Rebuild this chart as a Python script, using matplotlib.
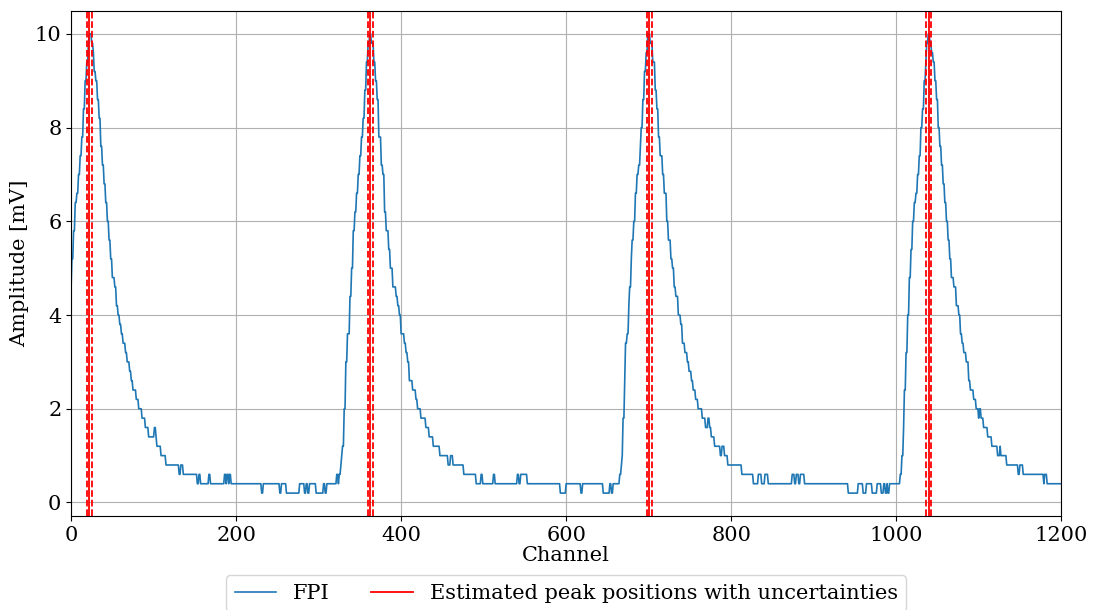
import numpy as np
import matplotlib
matplotlib.use("Agg")
import matplotlib.pyplot as plt

# FPI trace as (channel where a level starts, level in mV)
step_channel = [
    0, 1, 3, 5, 7, 9, 11, 13, 15, 17, 19, 21, 22,
    25, 27, 28, 30, 32, 34, 36, 38, 40, 42, 44, 46, 48, 50, 53, 55, 57, 59,
    61, 63, 66, 68, 71, 73, 75, 79, 82, 86, 90, 94, 101, 103, 104, 109, 115,
    131, 133, 136, 153, 155, 157, 167, 169, 186, 188, 189, 191, 192, 194,
    231, 233, 253, 255, 261, 277, 283, 285, 287, 289, 297, 306, 308, 310,
    322, 324, 325, 327, 328, 329, 331, 333, 335, 338, 340, 342, 344, 346,
    348, 350, 352, 354, 356, 358, 360, 362,
    364, 367, 369, 371, 373, 376, 378, 380, 382, 385, 387, 390, 394, 396,
    398, 400, 404, 406, 408, 410, 414, 418, 420, 424, 430, 434, 439, 447,
    457, 460, 463, 476, 491, 497, 499, 512, 514, 541, 543, 545, 553, 593,
    600, 618, 620, 645, 653, 655, 657, 665, 667, 668, 669, 671, 672, 674,
    676, 677, 679, 680, 682, 684, 686, 688, 690, 691, 693, 695, 697, 699,
    702, 705, 708, 710, 712, 714, 717, 719, 722, 724, 727, 729, 731, 733,
    736, 739, 741, 744, 747, 749, 752, 754, 757, 760, 765, 769, 772, 774,
    776, 780, 787, 789, 792, 796, 813, 827, 833, 837, 841, 845, 874, 877,
    879, 882, 884, 889, 942, 954, 960, 964, 971, 977, 982, 985, 987, 989,
    990, 992, 1005, 1007, 1009, 1010, 1012, 1014, 1016, 1018, 1020, 1022,
    1024, 1026, 1028, 1030, 1032, 1034, 1036, 1037, 1039,
    1041, 1043, 1045, 1047, 1049, 1051, 1053, 1055, 1057, 1059, 1061, 1063,
    1065, 1067, 1070, 1073, 1076, 1078, 1080, 1082, 1085, 1088, 1090, 1094,
    1097, 1100, 1101, 1103, 1106, 1111, 1116, 1123, 1126, 1127, 1134, 1148,
    1150, 1154, 1179, 1180, 1183,
]
step_level = [
    4.6, 5.2, 5.8, 6.4, 6.6, 7.0, 7.4, 7.8, 8.4, 9.0, 9.4, 9.8, 10.0,
    9.8, 9.6, 9.2, 9.0, 8.6, 8.2, 7.6, 7.2, 6.8, 6.4, 6.0, 5.6, 5.2, 4.8, 4.6, 4.2, 4.0, 3.8,
    3.6, 3.4, 3.2, 3.0, 2.8, 2.6, 2.4, 2.2, 2.0, 1.8, 1.6, 1.4, 1.6, 1.4, 1.2, 1.0, 0.8,
    0.6, 0.8, 0.6, 0.4, 0.6, 0.4, 0.6, 0.4, 0.6, 0.4, 0.6, 0.4, 0.6, 0.4,
    0.2, 0.4, 0.2, 0.4, 0.2, 0.4, 0.2, 0.4, 0.2, 0.4, 0.2, 0.4, 0.2, 0.4,
    0.6, 0.4, 0.6, 0.8, 1.0, 1.2, 2.0, 3.0, 3.6, 4.4, 5.0, 5.8, 6.2, 6.6,
    7.0, 7.4, 7.8, 8.2, 8.8, 9.4, 9.8, 10.0,
    9.8, 9.4, 9.0, 8.6, 7.8, 7.2, 7.0, 6.2, 5.8, 5.4, 5.0, 4.6, 4.4, 4.2,
    4.0, 3.6, 3.4, 3.2, 3.0, 2.6, 2.4, 2.2, 2.0, 1.8, 1.6, 1.4, 1.2, 1.0,
    0.8, 1.0, 0.8, 0.6, 0.4, 0.6, 0.4, 0.6, 0.4, 0.6, 0.4, 0.6, 0.4, 0.2,
    0.4, 0.2, 0.4, 0.2, 0.4, 0.2, 0.4, 0.6, 0.8, 1.0, 1.8, 2.6, 3.4, 3.6,
    4.2, 4.6, 5.2, 5.6, 6.0, 6.6, 7.0, 7.2, 7.6, 8.0, 8.6, 9.2, 9.6, 10.0,
    9.8, 9.4, 8.8, 8.4, 7.8, 7.4, 7.0, 6.6, 6.0, 5.6, 5.2, 5.0, 4.6, 4.4,
    4.0, 3.8, 3.4, 3.2, 3.0, 2.8, 2.6, 2.4, 2.2, 2.0, 1.8, 1.6, 1.8, 1.6,
    1.4, 1.2, 1.0, 1.2, 1.0, 0.8, 0.6, 0.4, 0.6, 0.4, 0.6, 0.4, 0.6, 0.4,
    0.6, 0.4, 0.6, 0.4, 0.2, 0.4, 0.2, 0.4, 0.2, 0.4, 0.2, 0.4, 0.2, 0.4,
    0.2, 0.4, 0.6, 1.0, 1.6, 2.4, 3.2, 4.0, 4.8, 5.4, 6.0, 6.4,
    6.6, 7.0, 7.4, 8.0, 8.4, 9.0, 9.4, 9.8, 10.0,
    9.8, 9.6, 9.4, 9.0, 8.6, 8.0, 7.6, 7.2, 6.8, 6.4, 6.0, 5.6,
    5.2, 4.8, 4.6, 4.2, 4.0, 3.6, 3.4, 3.2, 3.0, 2.6, 2.4, 2.2,
    2.0, 1.8, 2.0, 1.8, 1.6, 1.4, 1.2, 1.0, 1.2, 1.0, 0.8, 0.6,
    0.8, 0.6, 0.4, 0.6, 0.4,
]
last_channel = 1200

# estimated peak positions and their uncertainties (channels)
peak_pos = [22.2, 362.4, 700.9, 1039.6]
peak_err = [3.3, 3.0, 3.0, 2.9]

# expand the run-length list into one value per channel
run_len = np.diff(step_channel + [last_channel + 1])
amplitude = np.repeat(step_level, run_len)
channel = np.arange(last_channel + 1)

plt.rcParams["font.family"] = "DejaVu Serif"
plt.rcParams["font.size"] = 15

fig = plt.figure(figsize=(10.94, 6.10), dpi=100)
ax = fig.add_axes([0.065, 0.154, 0.905, 0.828])

ax.plot(channel, amplitude, color="#1f77b4", lw=1.2, label="FPI")
for i, (p, e) in enumerate(zip(peak_pos, peak_err)):
    ax.axvline(p, color="red", lw=1.3,
               label="Estimated peak positions with uncertainties" if i == 0 else None)
    ax.axvline(p - e, color="red", lw=1.3, ls="--")
    ax.axvline(p + e, color="red", lw=1.3, ls="--")

ax.set_xlim(0, 1200)
ax.set_xlabel("Channel", labelpad=1)
ax.set_ylabel("Amplitude [mV]")
ax.grid(True)
ax.legend(loc="upper center", bbox_to_anchor=(0.5, -0.097), ncol=2,
          fontsize=15, columnspacing=2.0)

fig.savefig("out.png", dpi=100)
